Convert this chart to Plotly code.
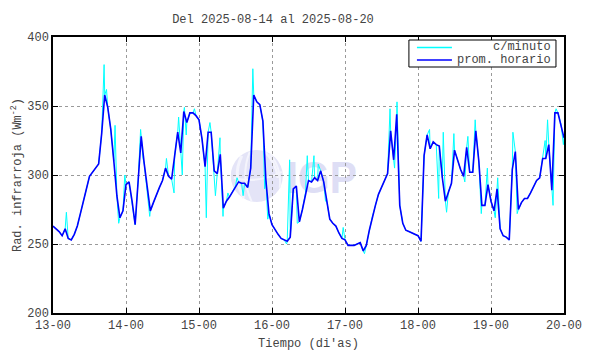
import base64
import plotly.graph_objects as go

# Hourly means (prom. horario), hours since 13-00, values in W/m^2
hourly_vals = [
    263, 261, 259, 256, 261, 254, 253, 257, 263, 272, 280, 290, 299, 302, 305, 308,
    330, 358, 349, 333, 310, 285, 269, 274,
    293, 295, 281, 264, 296, 328, 308, 289, 274, 280, 286, 291, 296, 305, 299, 297,
    314, 331, 316, 346, 338, 345, 345, 343,
    340, 326, 306, 331, 331, 303, 301, 315, 276, 281, 284, 288, 292, 295, 294, 294,
    291, 305, 358, 353, 351, 339, 296, 272,
    264, 260, 257, 254, 253, 252, 255, 290, 292, 266, 275, 287, 296, 295, 298, 296,
    303, 295, 281, 268, 265, 263, 258, 254,
    253, 249, 249, 249, 250, 251, 245, 249, 260, 270, 278, 286, 291, 296, 301, 332,
    311, 344, 278, 265, 260, 259, 258, 257,
    256, 252, 314, 329, 319, 324, 322, 321, 298, 281, 288, 294, 318, 310, 304, 299,
    320, 302, 302, 332, 310, 278, 278, 293,
    281, 274, 290, 261, 256, 255, 253, 304, 317, 275, 280, 283, 283, 287, 292, 296,
    298, 312, 312, 322, 289, 345, 345, 337,
    327,
]
hourly_hours = list(range(len(hourly_vals)))

# Minute-data excursions (c/minuto): hour, value
spike_hours = [
    4.4, 16.8, 17.6, 20.4, 21.6, 23.6, 28.8, 29.6, 31.8, 37.3, 39.8, 41.3, 42.5,
    43.2, 43.8, 46.5, 50.4, 51.6, 53.4, 54.9, 55.9, 57.5, 60.5, 62.5, 65.7, 69.6,
    70.6, 76.8, 77.8, 80.3, 83.6, 85.8, 87.2, 89.6, 95.4, 102.4, 110.8, 112.3,
    113.1, 123.8, 126.8, 128.3, 129.4, 131.8, 135.4, 136.4, 138.8, 140.8, 142.8,
    145.4, 146.2, 151.2, 152.6, 161.8, 162.6, 164.4, 165.4, 167.8,
]
spike_vals = [
    273, 380, 362, 336, 265, 300, 333, 312, 270, 312, 287, 342, 300,
    349, 329, 348, 269, 338, 285, 327, 270, 287, 298, 285, 377, 290,
    268, 250, 311, 265, 314, 314, 308, 281, 262, 243, 348, 305,
    353, 333, 283, 331, 273, 330, 295, 328, 340, 272, 305,
    269, 298, 331, 272, 325, 340, 278, 348, 322,
]

tick_hours = [0, 24, 48, 72, 96, 120, 144, 168]
tick_labels = ["13-00", "14-00", "15-00", "16-00", "17-00", "18-00", "19-00", "20-00"]
y_ticks = [200, 250, 300, 350, 400]
legend_labels = ["c/minuto", "prom. horario"]
colors = ["#00ffff", "#0000ff"]

# merge hourly points with minute excursions for the minute trace
pts = sorted(list(zip(hourly_hours, hourly_vals)) + list(zip(spike_hours, spike_vals)))
minute_x = [p[0] for p in pts]
minute_y = [p[1] for p in pts]

FONT = "Liberation Mono, Courier New, monospace"
TXT = "#444444"

# page body has an 8px default margin: figure drawn 8px smaller and offset
W, H = 582, 346

fig = go.Figure()
fig.add_trace(go.Scatter(x=minute_x, y=minute_y, mode="lines", name=legend_labels[0],
                         line=dict(color=colors[0], width=1)))
fig.add_trace(go.Scatter(x=hourly_hours, y=hourly_vals, mode="lines", name=legend_labels[1],
                         line=dict(color=colors[1], width=1.6)))

# watermark logo (IGP)
svg = """<svg xmlns='http://www.w3.org/2000/svg' width='132' height='58' viewBox='0 0 132 58'>
<circle cx='29' cy='28' r='26' fill='#e4e4f7'/>
<path d='M14 8 Q4 28 16 50' stroke='#f4f4fc' stroke-width='3' fill='none'/>
<path d='M22 4 Q12 28 24 54' stroke='#f4f4fc' stroke-width='2' fill='none'/>
<path d='M36 3 Q48 14 50 30' stroke='#f4f4fc' stroke-width='2.5' fill='none'/>
<path d='M42 6 Q54 20 52 40' stroke='#f4f4fc' stroke-width='2' fill='none'/>
<path d='M6 30 Q30 36 54 24' stroke='#f4f4fc' stroke-width='2' fill='none'/>
<text x='59' y='45' font-family='Liberation Sans, Arial, sans-serif' font-weight='bold' font-size='45' fill='#dedef5' textLength='70' lengthAdjust='spacingAndGlyphs'>IGP</text>
</svg>"""
src = "data:image/svg+xml;base64," + base64.b64encode(svg.encode()).decode()
fig.add_layout_image(dict(source=src, xref="paper", yref="paper", x=0.342, y=0.598,
                          sizex=0.2585, sizey=0.210, xanchor="left", yanchor="top",
                          sizing="stretch", layer="below", opacity=1))

# legend box (matlab style, right-aligned labels)
fig.add_shape(type="rect", xref="paper", yref="paper", x0=0.6965, x1=0.9843, y0=0.8913, y1=0.9891,
              fillcolor="white", line=dict(color="black", width=1), layer="above")
for i, yy in enumerate([0.9620, 0.9167]):
    fig.add_shape(type="line", xref="paper", yref="paper", x0=0.7122, x1=0.7807, y0=yy, y1=yy,
                  line=dict(color=colors[i], width=1.3 if i == 0 else 1.6), layer="above")
    fig.add_annotation(xref="paper", yref="paper", x=0.9785, y=yy, xanchor="right", yanchor="middle",
                       text=legend_labels[i], showarrow=False,
                       font=dict(family=FONT, size=12, color=TXT))

fig.update_layout(
    width=W, height=H,
    margin=dict(l=45, r=26, t=29, b=41),
    paper_bgcolor="white", plot_bgcolor="white",
    font=dict(family=FONT, size=12, color=TXT),
    title=dict(text="Del 2025-08-14 al 2025-08-20", x=(273 - 8) / W, xanchor="center",
               y=1 - 11 / H, yanchor="middle", font=dict(family=FONT, size=12, color=TXT)),
    showlegend=False,
)
fig.update_xaxes(range=[0, 168], tickvals=tick_hours, ticktext=tick_labels, automargin=False,
                 showgrid=True, gridcolor="#9a9a9a", griddash="dot", gridwidth=1,
                 showline=True, linecolor="black", linewidth=1.5, mirror="ticks",
                 ticks="inside", ticklen=5, tickcolor="black", zeroline=False,
                 title=dict(text="Tiempo (di'as)", standoff=6, font=dict(family=FONT, size=12, color=TXT)))
fig.update_yaxes(range=[200, 400], tickvals=y_ticks, automargin=False,
                 showgrid=True, gridcolor="#9a9a9a", griddash="dot", gridwidth=1,
                 showline=True, linecolor="black", linewidth=1.5, mirror="ticks",
                 ticks="inside", ticklen=5, tickcolor="black", zeroline=False,
                 title=dict(text="Rad. infrarroja (Wm<sup>-2</sup>)", standoff=3,
                            font=dict(family=FONT, size=12, color=TXT)))

fig.write_html("out.html")
